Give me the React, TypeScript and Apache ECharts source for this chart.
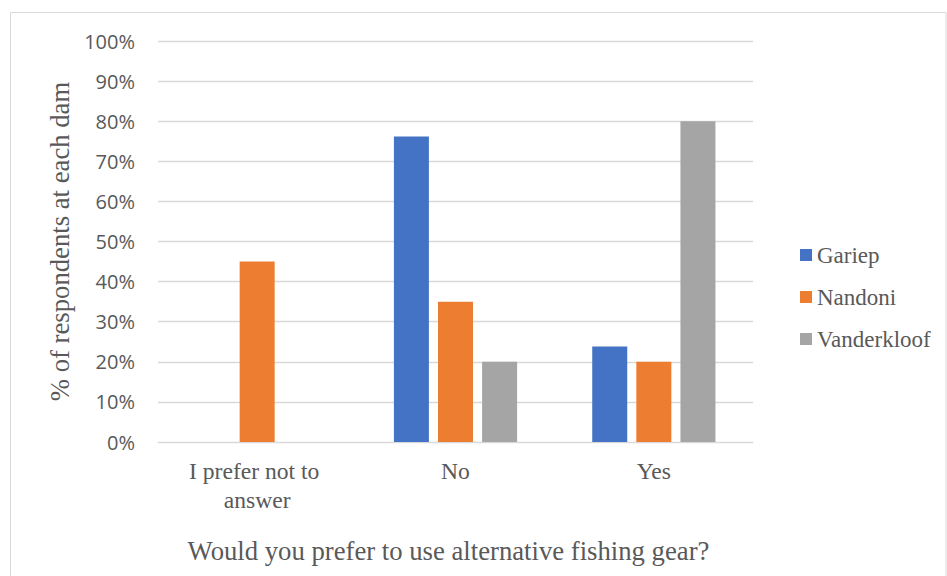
import React, { useEffect, useRef } from "react";
import * as echarts from "echarts";

// Survey answers per dam (percent of respondents)
const categories = ["I prefer not to answer", "No", "Yes"];
const gariep = [0, 76.2, 23.8];
const nandoni = [45, 35, 20];
const vanderkloof = [0, 20, 80];
const seriesNames = ["Gariep", "Nandoni", "Vanderkloof"];
const seriesColors = ["#4472C4", "#ED7D31", "#A5A5A5"];

const SERIF = "'Liberation Serif', 'Times New Roman', serif";
const SANS = "'Open Sans', 'Liberation Sans', sans-serif";
const TEXT = "#595959";
const GRID = "#d9d9d9";

export default function App() {
  const ref = useRef<HTMLDivElement>(null);

  useEffect(() => {
    if (!ref.current) return;
    const chart = echarts.init(ref.current, undefined, { renderer: "svg" });
    const values = [gariep, nandoni, vanderkloof];
    chart.setOption({
      animation: false,
      backgroundColor: "#ffffff",
      graphic: [
        {
          type: "rect",
          shape: { x: 10.5, y: 12.5, width: 935.5, height: 620 },
          style: { fill: "none", stroke: GRID, lineWidth: 1 },
          silent: true,
        },
      ],
      grid: { left: 158, right: 194, top: 41, bottom: 134, containLabel: false },
      legend: {
        orient: "vertical",
        left: 795,
        top: 238,
        icon: "rect",
        itemWidth: 12,
        itemHeight: 12,
        itemGap: 18,
        data: seriesNames,
        textStyle: { fontFamily: SERIF, fontSize: 23, color: TEXT, lineHeight: 24 },
      },
      xAxis: {
        type: "category",
        data: categories,
        name: "Would you prefer to use alternative fishing gear?",
        nameLocation: "middle",
        nameGap: 95,
        nameTextStyle: {
          fontFamily: SERIF,
          fontSize: 26.7,
          color: TEXT,
          padding: [0, 14, 0, 0],
        },
        axisLine: { show: true, lineStyle: { color: GRID, width: 1 } },
        axisTick: { show: false },
        axisLabel: {
          fontFamily: SERIF,
          fontSize: 23.6,
          color: TEXT,
          lineHeight: 29,
          margin: 14,
          width: 170,
          overflow: "break",
          interval: 0,
        },
      },
      yAxis: {
        type: "value",
        min: 0,
        max: 100,
        interval: 10,
        name: "% of respondents at each dam",
        nameLocation: "middle",
        nameGap: 83,
        nameTextStyle: { fontFamily: SERIF, fontSize: 26.7, color: TEXT },
        axisLine: { show: false },
        axisTick: { show: false },
        splitLine: { lineStyle: { color: GRID, width: 1.3 } },
        axisLabel: {
          fontFamily: SANS,
          fontSize: 20,
          color: TEXT,
          margin: 23,
          formatter: "{value}%",
        },
      },
      series: seriesNames.map((name, i) => ({
        name,
        type: "bar",
        data: values[i],
        barWidth: 35,
        barGap: "26%",
        itemStyle: { color: seriesColors[i] },
      })),
    });
    return () => chart.dispose();
  }, []);

  return (
    <div
      ref={ref}
      style={{ position: "fixed", left: 0, top: 0, width: 947, height: 576 }}
    />
  );
}
